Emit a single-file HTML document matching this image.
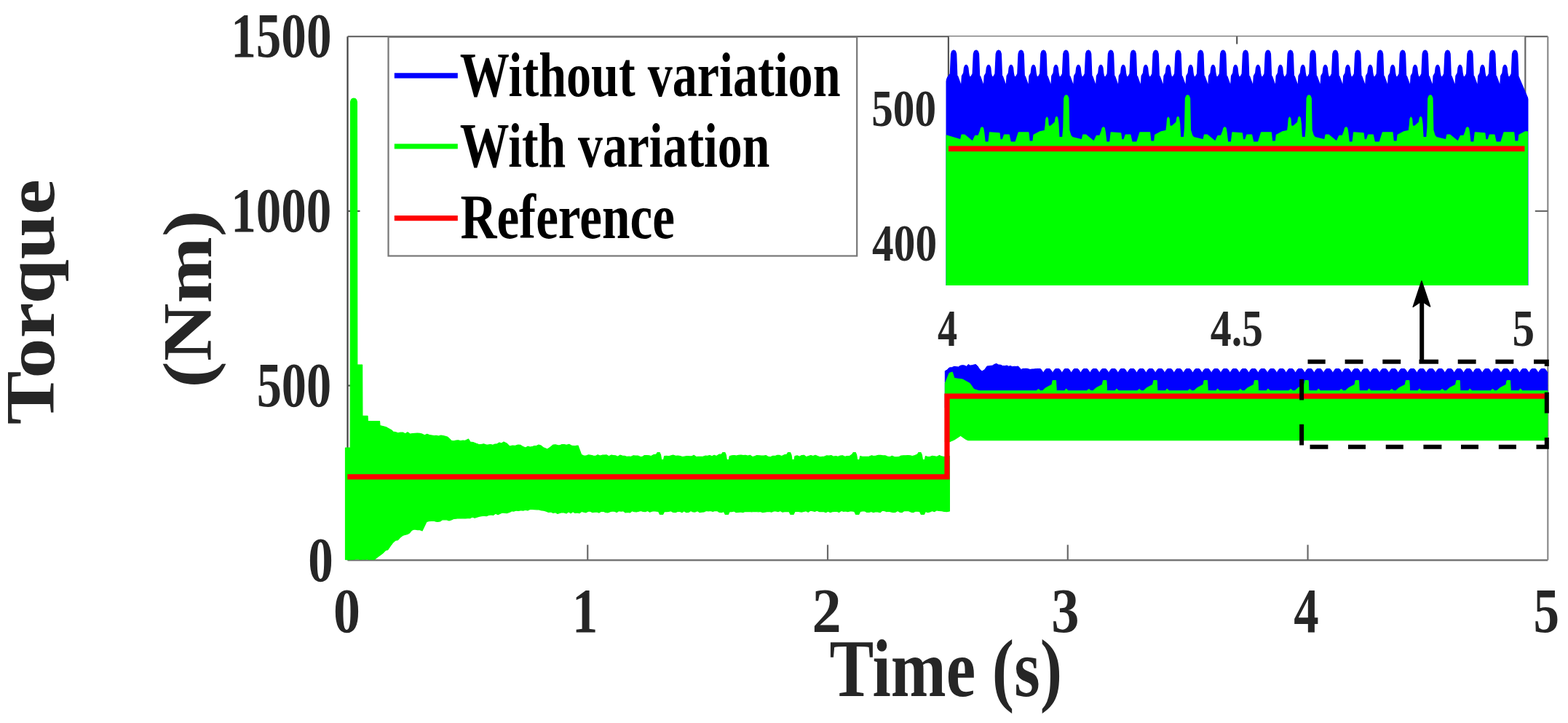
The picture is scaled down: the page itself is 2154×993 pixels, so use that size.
<!DOCTYPE html>
<html><head><meta charset="utf-8"><title>Torque plot</title>
<style>html,body{margin:0;padding:0;background:#fff;width:2154px;height:993px;overflow:hidden}svg{display:block}</style>
</head><body>
<svg width="2154" height="993" viewBox="0 0 2154 993" font-family="Liberation Serif, Times New Roman, serif" font-weight="bold">
<rect width="2154" height="993" fill="#fff"/>
<g stroke-width="2.2" fill="none">
<line x1="477.5" y1="50.2" x2="477.5" y2="769.3" stroke="#404040"/>
<line x1="477.5" y1="769.3" x2="2126.3" y2="769.3" stroke="#6a6a6a"/>
<line x1="477.5" y1="50.2" x2="2126.3" y2="50.2" stroke="#6a6a6a"/>
<line x1="2126.3" y1="50.2" x2="2126.3" y2="769.3" stroke="#8a8a8a"/>
<line x1="807.26" y1="769.3" x2="807.26" y2="748.3" stroke="#6a6a6a"/>
<line x1="1137.02" y1="769.3" x2="1137.02" y2="748.3" stroke="#6a6a6a"/>
<line x1="1466.78" y1="769.3" x2="1466.78" y2="748.3" stroke="#6a6a6a"/>
<line x1="1796.54" y1="769.3" x2="1796.54" y2="748.3" stroke="#6a6a6a"/>
<line x1="477.5" y1="529.6" x2="494.5" y2="529.6" stroke="#555"/>
<line x1="2126.3" y1="529.6" x2="2108.8" y2="529.6" stroke="#6a6a6a"/>
<line x1="477.5" y1="289.9" x2="494.5" y2="289.9" stroke="#555"/>
<line x1="2126.3" y1="289.9" x2="2108.8" y2="289.9" stroke="#6a6a6a"/>
</g>
<defs><clipPath id="mc"><rect x="470" y="50.2" width="1656.3" height="719.1"/></clipPath></defs>
<g clip-path="url(#mc)">
<path d="M474.5,615 L476.73,615 L478.97,615 L481.2,615 L481.6,140 L482.4,137.2 L483.8,135.6 L486,135.2 L488.2,135.6 L489.6,137.2 L490.4,140 L490.8,501 L493.07,501 L495.33,501 L497.6,501 L497.9,571.4 L500.27,571.4 L502.63,571.4 L505,571.4 L505.4,578.7 L507.41,578.7 L509.42,578.7 L511.44,578.7 L513.45,578.7 L515.46,578.7 L517.48,578.7 L519.49,578.7 L521.5,578.7 L522,584.7 L524,585.15 L526,585.6 L528,586.05 L530,586.5 L537.7,590.8 L540,593 L543.34,593.66 L546.67,594.81 L550.01,594.18 L553.35,594.03 L556.69,595.86 L560.03,593.77 L563.36,596.21 L566.7,595.6 L570.03,595.32 L573.36,595.22 L576.69,595.42 L580.01,596.19 L583.34,597.78 L586.67,596.4 L590,597.5 L593.12,598.07 L596.25,598.59 L599.38,598.26 L602.5,599.07 L605.62,598.18 L608.75,598.53 L611.88,599.27 L615,600.4 L620,605.3 L623.17,605.77 L626.33,605.11 L629.5,604.82 L632.67,605.52 L635.83,605.18 L639,605.3 L643.5,603 L646,607 L649.85,607.48 L653.7,609 L657.28,610.27 L660.85,610.52 L664.42,609.83 L668,611 L671,610.94 L674,610.57 L677,611.23 L680,610 L683,609.85 L686,607.95 L689,609 L692,607 L696,609.01 L700,613 L703.9,612.12 L707.8,612.34 L711.7,611 L715.13,611.43 L718.57,613.64 L722,615 L725,613.14 L728,614.1 L731,613.69 L734,612.52 L737,612.64 L740,611 L743,612.02 L746,614.51 L749,615.75 L752,617 L756,614.21 L760,611 L763,610.79 L766,611.68 L769,611.86 L772,610.53 L775,610.5 L778.33,611.43 L781.67,610.36 L785,612 L788,612.52 L791,612.38 L794,612 L798.7,624.6 L801.96,626.16 L805.22,626 L808.48,624.88 L811.74,625.42 L815,626 L818.06,626.46 L821.12,624.8 L824.18,625.96 L827.25,625.21 L830.31,625.1 L833.37,624.97 L836.43,626.83 L839.49,625.19 L842.55,625.52 L845.62,625.91 L848.68,627.18 L851.74,625.14 L854.8,626.12 L857.86,626.4 L860.92,627.29 L863.98,627.14 L867.05,627.27 L870.11,625.77 L873.17,626.15 L876.23,626.02 L879.29,627.4 L882.35,627.61 L885.42,625.53 L888.48,625.62 L891.54,625.78 L894.6,626.5 L898.1,624.56 L901.6,624 L903.1,621.5 L906.1,621.5 L907.6,625 L908.6,631.5 L911.6,631.5 L912.6,626.5 L915.72,626.46 L918.83,626.73 L921.95,625.88 L925.07,625.21 L928.19,626.29 L931.3,626.16 L934.42,626.67 L937.54,627.68 L940.66,627 L943.77,626.54 L946.89,626.81 L950.01,626.96 L953.13,625.34 L956.24,627.54 L959.36,627.23 L962.48,627.47 L965.6,627.27 L968.71,626.22 L971.83,626.24 L974.95,625.47 L978.07,626.85 L981.18,625.36 L984.3,626.5 L987.8,624.13 L991.3,624 L992.8,621.5 L995.8,621.5 L997.3,625 L998.3,631.5 L1001.3,631.5 L1002.3,626.5 L1005.42,625.74 L1008.53,625.62 L1011.65,626.08 L1014.77,625.34 L1017.89,625.2 L1021,625.59 L1024.12,625.46 L1027.24,626.15 L1030.36,625.27 L1033.47,627.47 L1036.59,626.8 L1039.71,625.59 L1042.83,625.86 L1045.94,626.1 L1049.06,626.15 L1052.18,625.52 L1055.3,627.41 L1058.41,627.78 L1061.53,626.41 L1064.65,626.46 L1067.77,625.42 L1070.88,625.47 L1074,626.5 L1077.5,624.84 L1081,624 L1082.5,621.5 L1085.5,621.5 L1087,625 L1088,631.5 L1091,631.5 L1092,626.5 L1095.12,625.89 L1098.23,627.36 L1101.35,625.62 L1104.47,625.26 L1107.59,627.67 L1110.7,626.57 L1113.82,625.58 L1116.94,626.61 L1120.06,625.27 L1123.17,626.57 L1126.29,627.74 L1129.41,627.44 L1132.53,627.01 L1135.64,625.88 L1138.76,626.15 L1141.88,625.63 L1145,627.21 L1148.11,626.58 L1151.23,627.23 L1154.35,626.06 L1157.47,625.78 L1160.58,627.31 L1163.7,626.5 L1167.2,626.51 L1170.7,624 L1172.2,621.5 L1175.2,621.5 L1176.7,625 L1177.7,631.5 L1180.7,631.5 L1181.7,626.5 L1184.82,627.42 L1187.93,627.3 L1191.05,627.33 L1194.17,627.12 L1197.29,625.79 L1200.4,626.55 L1203.52,626.12 L1206.64,625.28 L1209.76,625.27 L1212.87,625.93 L1215.99,625.87 L1219.11,627 L1222.23,627.69 L1225.34,626.36 L1228.46,627.64 L1231.58,627.77 L1234.7,627.68 L1237.81,626.15 L1240.93,625.77 L1244.05,625.79 L1247.17,625.71 L1250.28,625.73 L1253.4,626.5 L1256.9,625.57 L1260.4,624 L1261.9,621.5 L1264.9,621.5 L1266.4,625 L1267.4,631.5 L1270.4,631.5 L1271.4,626.5 L1274.58,627.54 L1277.76,627.39 L1280.93,626.45 L1284.11,626.9 L1287.29,627.28 L1290.47,625.42 L1293.64,626.92 L1296.82,627.57 L1300,626.5 L1304.4,626.5 L1304.4,702 L1300.8,702.61 L1297.2,702.4 L1293.6,701.57 L1290,701.5 L1286.9,700.83 L1283.8,702.59 L1280.7,701.56 L1277.6,702.95 L1274.5,703.56 L1271.4,702.5 L1269.4,706.5 L1265.4,706.5 L1263.4,702.5 L1260.37,702.23 L1257.35,702.24 L1254.32,703.66 L1251.3,703.08 L1248.27,701.64 L1245.24,701.53 L1242.22,701.59 L1239.19,703.55 L1236.17,703.3 L1233.14,701.58 L1230.11,703.35 L1227.09,703.75 L1224.06,702.91 L1221.04,702.11 L1218.01,702.63 L1214.99,701.54 L1211.96,701.24 L1208.93,703.72 L1205.91,702.89 L1202.88,702.57 L1199.86,703.63 L1196.83,702.33 L1193.8,703.47 L1190.78,703.35 L1187.75,701.75 L1184.73,701.85 L1181.7,702.5 L1179.7,706.5 L1175.7,706.5 L1173.7,702.5 L1170.67,701.96 L1167.65,701.83 L1164.62,702.72 L1161.6,701.87 L1158.57,702.29 L1155.54,701.54 L1152.52,703.57 L1149.49,702.12 L1146.47,702.39 L1143.44,702.72 L1140.41,703.55 L1137.39,702.29 L1134.36,703.59 L1131.34,702.5 L1128.31,702.58 L1125.29,702.56 L1122.26,701.25 L1119.23,702.34 L1116.21,701.68 L1113.18,701.21 L1110.16,703.28 L1107.13,701.65 L1104.1,702.43 L1101.08,703.09 L1098.05,702.65 L1095.03,702.05 L1092,702.5 L1090,706.5 L1086,706.5 L1084,702.5 L1080.97,702.55 L1077.95,702.64 L1074.92,703.24 L1071.9,701.48 L1068.87,702.66 L1065.84,701.85 L1062.82,701.92 L1059.79,703.21 L1056.77,702.52 L1053.74,702.66 L1050.71,703.18 L1047.69,703.57 L1044.66,702.35 L1041.64,702.79 L1038.61,702.51 L1035.59,702.53 L1032.56,703 L1029.53,702.38 L1026.51,702.59 L1023.48,702.44 L1020.46,703.65 L1017.43,703.02 L1014.4,703.48 L1011.38,703.65 L1008.35,701.87 L1005.33,702.65 L1002.3,702.5 L1000.3,706.5 L996.3,706.5 L994.3,702.5 L991.27,703.65 L988.25,703.38 L985.22,701.56 L982.2,701.52 L979.17,702.35 L976.14,701.39 L973.12,701.83 L970.09,701.39 L967.07,702.94 L964.04,703.24 L961.01,703.53 L957.99,701.6 L954.96,703.06 L951.94,702.92 L948.91,701.57 L945.89,703.5 L942.86,703.72 L939.83,701.77 L936.81,703.68 L933.78,702.24 L930.76,702.47 L927.73,703.77 L924.7,703.36 L921.68,701.62 L918.65,702.32 L915.63,702.54 L912.6,702.5 L910.6,706.5 L906.6,706.5 L904.6,702.5 L901.58,702.1 L898.56,701.74 L895.54,702.08 L892.51,703.15 L889.49,701.34 L886.47,702.75 L883.45,702.47 L880.43,701.39 L877.41,702.22 L874.39,703 L871.36,702.73 L868.34,701.58 L865.32,703.99 L862.3,703.5 L859.28,703.99 L856.26,701.76 L853.24,702.19 L850.21,701.62 L847.19,703.56 L844.17,702.26 L841.15,701.91 L838.13,702.69 L835.11,703.98 L832.09,703.76 L829.06,702.32 L826.04,702.05 L823.02,704.07 L820,703 L817,703.25 L814,703.66 L811,702.14 L808,702.13 L805,703.84 L802,703.23 L799,702.38 L796,704.7 L793,703.98 L790,704.48 L787,702.69 L784,704.77 L781,702.78 L778,704.92 L775,703.93 L772,703.7 L769,704.33 L766,705.37 L763,703.73 L760,704.4 L756.78,702.89 L753.56,703.38 L750.33,702.09 L747.11,701.21 L743.89,700.8 L740.67,699.96 L737.44,699.81 L734.22,699.56 L731,699.5 L727.9,699.39 L724.8,700.97 L721.7,700.15 L718.6,701.1 L715.5,700.66 L712.4,701.5 L709.3,701.05 L706.2,702.05 L703.1,701.84 L700,703.5 L696.81,704.54 L693.62,704.51 L690.42,704.01 L687.23,705.19 L684.04,706.82 L680.85,705.11 L677.65,707.4 L674.46,706.83 L671.27,707.43 L668.08,708.75 L664.88,708.05 L661.69,708.78 L658.5,709.2 L655.29,710.09 L652.08,711.25 L648.88,709.99 L645.67,711.66 L642.46,711.74 L639.25,711.95 L636.04,711.75 L632.83,712 L629.62,711.64 L626.42,712.24 L623.21,712.48 L620,714 L616.91,714.85 L613.82,713.82 L610.73,713.81 L607.64,713.83 L604.55,716.02 L601.45,716.33 L598.36,716.03 L595.27,715.25 L592.18,715.38 L589.09,715.73 L586,716.5 L583,722.64 L580,729 L576.33,727.44 L572.67,727.53 L569,727 L565.8,728.22 L562.6,731.87 L559.4,733.73 L556.2,734.46 L553,735.5 L549.8,738 L546.53,741.54 L543.27,742.17 L540,745 L536.4,749.63 L532.8,755 L529.6,755.95 L526.4,759.19 L523.2,761.68 L520,764 L516.75,766.51 L513.5,769 L510.5,768.22 L507.5,769.01 L504.5,767.71 L501.5,768.39 L498.5,767.93 L495.5,768.74 L492.5,767.81 L489.5,767.76 L486.5,768.49 L483.5,768.31 L480.5,769.22 L477.5,769.08 L474.5,769 Z" fill="#00ff00" stroke="#00ff00" stroke-width="1.2" stroke-linejoin="round" />
<path d="M1298.3,560 L1298.3,509.6 L1301.15,508.1 L1304,505 L1307.5,504.65 L1311,503.3 L1313.8,503.73 L1316.6,503.99 L1319.4,502.17 L1322.2,501.7 L1325,502 L1327.6,503.35 L1330.2,500.48 L1332.8,502.12 L1335.4,501.66 L1338,501 L1340.5,500.54 L1343,503 L1346,507.57 L1349,510 L1352.5,507.75 L1356,503 L1358.5,502.76 L1361,502.45 L1363.5,502.05 L1366,500.4 L1368.83,499.51 L1371.67,501.01 L1374.5,501.21 L1377.33,502.54 L1380.17,502.71 L1383,502 L1385.6,503.21 L1388.2,502.6 L1390.8,503.76 L1393.4,503.25 L1396,503.45 L1398.6,503 L1402.8,507.5 L1402.8,507.5 L1405,506.5 L1407.5,506.32 L1410,506.25 L1412.5,506.66 L1415,507.5 L1417.5,507.03 L1420,507 L1423.5,506.62 L1427,507.5 L1430,509 L1420.37,511.9 L1423.47,507.2 L1424.57,506.6 L1428.97,506.6 L1430.07,507.2 L1433.2,511.9 L1436.3,507.2 L1437.4,506.6 L1441.8,506.6 L1442.9,507.2 L1446.03,511.9 L1449.13,507.2 L1450.23,506.6 L1454.63,506.6 L1455.73,507.2 L1458.86,511.9 L1461.96,507.2 L1463.06,506.6 L1467.46,506.6 L1468.56,507.2 L1471.69,511.9 L1474.79,507.2 L1475.89,506.6 L1480.29,506.6 L1481.39,507.2 L1484.52,511.9 L1487.62,507.2 L1488.72,506.6 L1493.12,506.6 L1494.22,507.2 L1497.35,511.9 L1500.45,507.2 L1501.55,506.6 L1505.95,506.6 L1507.05,507.2 L1510.18,511.9 L1513.28,507.2 L1514.38,506.6 L1518.78,506.6 L1519.88,507.2 L1523.01,511.9 L1526.11,507.2 L1527.21,506.6 L1531.61,506.6 L1532.71,507.2 L1535.84,511.9 L1538.94,507.2 L1540.04,506.6 L1544.44,506.6 L1545.54,507.2 L1548.67,511.9 L1551.77,507.2 L1552.87,506.6 L1557.27,506.6 L1558.37,507.2 L1561.5,511.9 L1564.6,507.2 L1565.7,506.6 L1570.1,506.6 L1571.2,507.2 L1574.33,511.9 L1577.43,507.2 L1578.53,506.6 L1582.93,506.6 L1584.03,507.2 L1587.16,511.9 L1590.26,507.2 L1591.36,506.6 L1595.76,506.6 L1596.86,507.2 L1599.99,511.9 L1603.09,507.2 L1604.19,506.6 L1608.59,506.6 L1609.69,507.2 L1612.82,511.9 L1615.92,507.2 L1617.02,506.6 L1621.42,506.6 L1622.52,507.2 L1625.65,511.9 L1628.75,507.2 L1629.85,506.6 L1634.25,506.6 L1635.35,507.2 L1638.48,511.9 L1641.58,507.2 L1642.68,506.6 L1647.08,506.6 L1648.18,507.2 L1651.31,511.9 L1654.41,507.2 L1655.51,506.6 L1659.91,506.6 L1661.01,507.2 L1664.14,511.9 L1667.24,507.2 L1668.34,506.6 L1672.74,506.6 L1673.84,507.2 L1676.97,511.9 L1680.07,507.2 L1681.17,506.6 L1685.57,506.6 L1686.67,507.2 L1689.8,511.9 L1692.9,507.2 L1694,506.6 L1698.4,506.6 L1699.5,507.2 L1702.63,511.9 L1705.73,507.2 L1706.83,506.6 L1711.23,506.6 L1712.33,507.2 L1715.46,511.9 L1718.56,507.2 L1719.66,506.6 L1724.06,506.6 L1725.16,507.2 L1728.29,511.9 L1731.39,507.2 L1732.49,506.6 L1736.89,506.6 L1737.99,507.2 L1741.12,511.9 L1744.22,507.2 L1745.32,506.6 L1749.72,506.6 L1750.82,507.2 L1753.95,511.9 L1757.05,507.2 L1758.15,506.6 L1762.55,506.6 L1763.65,507.2 L1766.78,511.9 L1769.88,507.2 L1770.98,506.6 L1775.38,506.6 L1776.48,507.2 L1779.61,511.9 L1782.71,507.2 L1783.81,506.6 L1788.21,506.6 L1789.31,507.2 L1792.44,511.9 L1795.54,507.2 L1796.64,506.6 L1801.04,506.6 L1802.14,507.2 L1805.27,511.9 L1808.37,507.2 L1809.47,506.6 L1813.87,506.6 L1814.97,507.2 L1818.1,511.9 L1821.2,507.2 L1822.3,506.6 L1826.7,506.6 L1827.8,507.2 L1830.93,511.9 L1834.03,507.2 L1835.13,506.6 L1839.53,506.6 L1840.63,507.2 L1843.76,511.9 L1846.86,507.2 L1847.96,506.6 L1852.36,506.6 L1853.46,507.2 L1856.59,511.9 L1859.69,507.2 L1860.79,506.6 L1865.19,506.6 L1866.29,507.2 L1869.42,511.9 L1872.52,507.2 L1873.62,506.6 L1878.02,506.6 L1879.12,507.2 L1882.25,511.9 L1885.35,507.2 L1886.45,506.6 L1890.85,506.6 L1891.95,507.2 L1895.08,511.9 L1898.18,507.2 L1899.28,506.6 L1903.68,506.6 L1904.78,507.2 L1907.91,511.9 L1911.01,507.2 L1912.11,506.6 L1916.51,506.6 L1917.61,507.2 L1920.74,511.9 L1923.84,507.2 L1924.94,506.6 L1929.34,506.6 L1930.44,507.2 L1933.57,511.9 L1936.67,507.2 L1937.77,506.6 L1942.17,506.6 L1943.27,507.2 L1946.4,511.9 L1949.5,507.2 L1950.6,506.6 L1955,506.6 L1956.1,507.2 L1959.23,511.9 L1962.33,507.2 L1963.43,506.6 L1967.83,506.6 L1968.93,507.2 L1972.06,511.9 L1975.16,507.2 L1976.26,506.6 L1980.66,506.6 L1981.76,507.2 L1984.89,511.9 L1987.99,507.2 L1989.09,506.6 L1993.49,506.6 L1994.59,507.2 L1997.72,511.9 L2000.82,507.2 L2001.92,506.6 L2006.32,506.6 L2007.42,507.2 L2010.55,511.9 L2013.65,507.2 L2014.75,506.6 L2019.15,506.6 L2020.25,507.2 L2023.38,511.9 L2026.48,507.2 L2027.58,506.6 L2031.98,506.6 L2033.08,507.2 L2036.21,511.9 L2039.31,507.2 L2040.41,506.6 L2044.81,506.6 L2045.91,507.2 L2049.04,511.9 L2052.14,507.2 L2053.24,506.6 L2057.64,506.6 L2058.74,507.2 L2061.87,511.9 L2064.97,507.2 L2066.07,506.6 L2070.47,506.6 L2071.57,507.2 L2074.7,511.9 L2077.8,507.2 L2078.9,506.6 L2083.3,506.6 L2084.4,507.2 L2087.53,511.9 L2090.63,507.2 L2091.73,506.6 L2096.13,506.6 L2097.23,507.2 L2100.36,511.9 L2103.46,507.2 L2104.56,506.6 L2108.96,506.6 L2110.06,507.2 L2113.19,511.9 L2116.29,507.2 L2117.39,506.6 L2121.79,506.6 L2122.89,507.2 L2126.02,511.9 L2129.12,507.2 L2130.22,506.6 L2134.62,506.6 L2135.72,507.2 L2127.5,511 L2127.5,560 Z" fill="#0000ff" stroke="#0000ff" stroke-width="1.0" stroke-linejoin="round" />
<path d="M1298.3,607 L1298.3,526.5 L1304,512.4 L1308.3,511 L1311,519.5 L1322.4,521 L1332.3,526.5 L1338,534.6 L1345,536.8 L1423.5,536.8 L1426.5,534.5 L1429.5,536.8 L1432.2,536.7 L1436.5,532.8 L1442.1,529.8 L1444.9,528.4 L1446.1,522.6 L1450.6,522.6 L1451.3,536.7 L1462.5,536.8 L1464.5,534 L1467.5,536.8 L1492.83,536.8 L1495.83,534.5 L1498.83,536.8 L1501.53,536.7 L1505.83,532.8 L1511.43,529.8 L1514.23,528.4 L1515.43,522.6 L1519.93,522.6 L1520.63,536.7 L1531.83,536.8 L1533.83,534 L1536.83,536.8 L1562.16,536.8 L1565.16,534.5 L1568.16,536.8 L1570.86,536.7 L1575.16,532.8 L1580.76,529.8 L1583.56,528.4 L1584.76,522.6 L1589.26,522.6 L1589.96,536.7 L1601.16,536.8 L1603.16,534 L1606.16,536.8 L1631.49,536.8 L1634.49,534.5 L1637.49,536.8 L1640.19,536.7 L1644.49,532.8 L1650.09,529.8 L1652.89,528.4 L1654.09,522.6 L1658.59,522.6 L1659.29,536.7 L1670.49,536.8 L1672.49,534 L1675.49,536.8 L1700.82,536.8 L1703.82,534.5 L1706.82,536.8 L1709.52,536.7 L1713.82,532.8 L1719.42,529.8 L1722.22,528.4 L1723.42,522.6 L1727.92,522.6 L1728.62,536.7 L1739.82,536.8 L1741.82,534 L1744.82,536.8 L1770.15,536.8 L1773.15,534.5 L1776.15,536.8 L1778.85,536.7 L1783.15,532.8 L1788.75,529.8 L1791.55,528.4 L1792.75,522.6 L1797.25,522.6 L1797.95,536.7 L1809.15,536.8 L1811.15,534 L1814.15,536.8 L1839.48,536.8 L1842.48,534.5 L1845.48,536.8 L1848.18,536.7 L1852.48,532.8 L1858.08,529.8 L1860.88,528.4 L1862.08,522.6 L1866.58,522.6 L1867.28,536.7 L1878.48,536.8 L1880.48,534 L1883.48,536.8 L1908.81,536.8 L1911.81,534.5 L1914.81,536.8 L1917.51,536.7 L1921.81,532.8 L1927.41,529.8 L1930.21,528.4 L1931.41,522.6 L1935.91,522.6 L1936.61,536.7 L1947.81,536.8 L1949.81,534 L1952.81,536.8 L1978.14,536.8 L1981.14,534.5 L1984.14,536.8 L1986.84,536.7 L1991.14,532.8 L1996.74,529.8 L1999.54,528.4 L2000.74,522.6 L2005.24,522.6 L2005.94,536.7 L2017.14,536.8 L2019.14,534 L2022.14,536.8 L2047.47,536.8 L2050.47,534.5 L2053.47,536.8 L2056.17,536.7 L2060.47,532.8 L2066.07,529.8 L2068.87,528.4 L2070.07,522.6 L2074.57,522.6 L2075.27,536.7 L2086.47,536.8 L2088.47,534 L2091.47,536.8 L2127.5,536.8 L2127.5,604.8 L1330,604.8 L1326.7,603.4 L1319.6,598.4 L1311,604 L1304,607 Z" fill="#00ff00" stroke="#00ff00" stroke-width="1.0" stroke-linejoin="round" />
</g>
<path d="M477.3,654.8 L1301,654.8 L1301,544.1 L2124.8,544.1" fill="none" stroke="#ff0000" stroke-width="7.2" stroke-linejoin="miter"/>
<rect x="533.5" y="50.8" width="643.7" height="300.7" fill="#fff" stroke="#777" stroke-width="2.2"/>
<line x1="541.8" y1="103.8" x2="628.8" y2="103.8" stroke="#0000ff" stroke-width="7.2"/>
<line x1="541.8" y1="201.0" x2="628.8" y2="201.0" stroke="#00ff00" stroke-width="7.2"/>
<line x1="541.8" y1="299.6" x2="628.8" y2="299.6" stroke="#ff0000" stroke-width="7.2"/>
<rect x="1302.9" y="50.2" width="792.4000000000001" height="341.8" fill="#fff"/>
<defs><clipPath id="ic"><rect x="1299.6" y="50.2" width="799.8" height="341.8"/></clipPath></defs>
<g stroke-width="2.2">
<line x1="1302.9" y1="50.2" x2="1302.9" y2="392.0" stroke="#555"/>
<line x1="2095.3" y1="50.2" x2="2095.3" y2="392.0" stroke="#666"/>
<line x1="1699.2" y1="50.2" x2="1699.2" y2="60.5" stroke="#555"/>
</g>
<g clip-path="url(#ic)">
<path d="M1299.6,392 L1299.6,112 L1302,106 L1305.5,101.4 L1305.5,101.4 L1306.7,74 L1307.9,70.5 L1310.1,69.2 L1312.3,70.5 L1313.5,74 L1314.6,104 L1315.6,105 L1319.7,116.5 L1320.4,121.5 L1321,114 L1321.6,104.5 L1323.9,100.5 L1324.7,93 L1325.9,90.2 L1327.2,89.5 L1328.5,90.2 L1329.7,93 L1330.5,101 L1331.6,105.5 L1334.1,105.5 L1336.3,101.4 L1336.34,101.4 L1337.54,74 L1338.74,70.5 L1340.94,69.2 L1343.14,70.5 L1344.34,74 L1345.44,104 L1346.44,105 L1350.54,116.5 L1351.24,121.5 L1351.84,114 L1352.44,104.5 L1354.74,100.5 L1355.54,93 L1356.74,90.2 L1358.04,89.5 L1359.34,90.2 L1360.54,93 L1361.34,101 L1362.44,105.5 L1364.94,105.5 L1367.14,101.4 L1367.18,101.4 L1368.38,74 L1369.58,70.5 L1371.78,69.2 L1373.98,70.5 L1375.18,74 L1376.28,104 L1377.28,105 L1381.38,116.5 L1382.08,121.5 L1382.68,114 L1383.28,104.5 L1385.58,100.5 L1386.38,93 L1387.58,90.2 L1388.88,89.5 L1390.18,90.2 L1391.38,93 L1392.18,101 L1393.28,105.5 L1395.78,105.5 L1397.98,101.4 L1398.02,101.4 L1399.22,74 L1400.42,70.5 L1402.62,69.2 L1404.82,70.5 L1406.02,74 L1407.12,104 L1408.12,105 L1412.22,116.5 L1412.92,121.5 L1413.52,114 L1414.12,104.5 L1416.42,100.5 L1417.22,93 L1418.42,90.2 L1419.72,89.5 L1421.02,90.2 L1422.22,93 L1423.02,101 L1424.12,105.5 L1426.62,105.5 L1428.82,101.4 L1428.86,101.4 L1430.06,74 L1431.26,70.5 L1433.46,69.2 L1435.66,70.5 L1436.86,74 L1437.96,104 L1438.96,105 L1443.06,116.5 L1443.76,121.5 L1444.36,114 L1444.96,104.5 L1447.26,100.5 L1448.06,93 L1449.26,90.2 L1450.56,89.5 L1451.86,90.2 L1453.06,93 L1453.86,101 L1454.96,105.5 L1457.46,105.5 L1459.66,101.4 L1459.7,101.4 L1460.9,74 L1462.1,70.5 L1464.3,69.2 L1466.5,70.5 L1467.7,74 L1468.8,104 L1469.8,105 L1473.9,116.5 L1474.6,121.5 L1475.2,114 L1475.8,104.5 L1478.1,100.5 L1478.9,93 L1480.1,90.2 L1481.4,89.5 L1482.7,90.2 L1483.9,93 L1484.7,101 L1485.8,105.5 L1488.3,105.5 L1490.5,101.4 L1490.54,101.4 L1491.74,74 L1492.94,70.5 L1495.14,69.2 L1497.34,70.5 L1498.54,74 L1499.64,104 L1500.64,105 L1504.74,116.5 L1505.44,121.5 L1506.04,114 L1506.64,104.5 L1508.94,100.5 L1509.74,93 L1510.94,90.2 L1512.24,89.5 L1513.54,90.2 L1514.74,93 L1515.54,101 L1516.64,105.5 L1519.14,105.5 L1521.34,101.4 L1521.38,101.4 L1522.58,74 L1523.78,70.5 L1525.98,69.2 L1528.18,70.5 L1529.38,74 L1530.48,104 L1531.48,105 L1535.58,116.5 L1536.28,121.5 L1536.88,114 L1537.48,104.5 L1539.78,100.5 L1540.58,93 L1541.78,90.2 L1543.08,89.5 L1544.38,90.2 L1545.58,93 L1546.38,101 L1547.48,105.5 L1549.98,105.5 L1552.18,101.4 L1552.22,101.4 L1553.42,74 L1554.62,70.5 L1556.82,69.2 L1559.02,70.5 L1560.22,74 L1561.32,104 L1562.32,105 L1566.42,116.5 L1567.12,121.5 L1567.72,114 L1568.32,104.5 L1570.62,100.5 L1571.42,93 L1572.62,90.2 L1573.92,89.5 L1575.22,90.2 L1576.42,93 L1577.22,101 L1578.32,105.5 L1580.82,105.5 L1583.02,101.4 L1583.06,101.4 L1584.26,74 L1585.46,70.5 L1587.66,69.2 L1589.86,70.5 L1591.06,74 L1592.16,104 L1593.16,105 L1597.26,116.5 L1597.96,121.5 L1598.56,114 L1599.16,104.5 L1601.46,100.5 L1602.26,93 L1603.46,90.2 L1604.76,89.5 L1606.06,90.2 L1607.26,93 L1608.06,101 L1609.16,105.5 L1611.66,105.5 L1613.86,101.4 L1613.9,101.4 L1615.1,74 L1616.3,70.5 L1618.5,69.2 L1620.7,70.5 L1621.9,74 L1623,104 L1624,105 L1628.1,116.5 L1628.8,121.5 L1629.4,114 L1630,104.5 L1632.3,100.5 L1633.1,93 L1634.3,90.2 L1635.6,89.5 L1636.9,90.2 L1638.1,93 L1638.9,101 L1640,105.5 L1642.5,105.5 L1644.7,101.4 L1644.74,101.4 L1645.94,74 L1647.14,70.5 L1649.34,69.2 L1651.54,70.5 L1652.74,74 L1653.84,104 L1654.84,105 L1658.94,116.5 L1659.64,121.5 L1660.24,114 L1660.84,104.5 L1663.14,100.5 L1663.94,93 L1665.14,90.2 L1666.44,89.5 L1667.74,90.2 L1668.94,93 L1669.74,101 L1670.84,105.5 L1673.34,105.5 L1675.54,101.4 L1675.58,101.4 L1676.78,74 L1677.98,70.5 L1680.18,69.2 L1682.38,70.5 L1683.58,74 L1684.68,104 L1685.68,105 L1689.78,116.5 L1690.48,121.5 L1691.08,114 L1691.68,104.5 L1693.98,100.5 L1694.78,93 L1695.98,90.2 L1697.28,89.5 L1698.58,90.2 L1699.78,93 L1700.58,101 L1701.68,105.5 L1704.18,105.5 L1706.38,101.4 L1706.42,101.4 L1707.62,74 L1708.82,70.5 L1711.02,69.2 L1713.22,70.5 L1714.42,74 L1715.52,104 L1716.52,105 L1720.62,116.5 L1721.32,121.5 L1721.92,114 L1722.52,104.5 L1724.82,100.5 L1725.62,93 L1726.82,90.2 L1728.12,89.5 L1729.42,90.2 L1730.62,93 L1731.42,101 L1732.52,105.5 L1735.02,105.5 L1737.22,101.4 L1737.26,101.4 L1738.46,74 L1739.66,70.5 L1741.86,69.2 L1744.06,70.5 L1745.26,74 L1746.36,104 L1747.36,105 L1751.46,116.5 L1752.16,121.5 L1752.76,114 L1753.36,104.5 L1755.66,100.5 L1756.46,93 L1757.66,90.2 L1758.96,89.5 L1760.26,90.2 L1761.46,93 L1762.26,101 L1763.36,105.5 L1765.86,105.5 L1768.06,101.4 L1768.1,101.4 L1769.3,74 L1770.5,70.5 L1772.7,69.2 L1774.9,70.5 L1776.1,74 L1777.2,104 L1778.2,105 L1782.3,116.5 L1783,121.5 L1783.6,114 L1784.2,104.5 L1786.5,100.5 L1787.3,93 L1788.5,90.2 L1789.8,89.5 L1791.1,90.2 L1792.3,93 L1793.1,101 L1794.2,105.5 L1796.7,105.5 L1798.9,101.4 L1798.94,101.4 L1800.14,74 L1801.34,70.5 L1803.54,69.2 L1805.74,70.5 L1806.94,74 L1808.04,104 L1809.04,105 L1813.14,116.5 L1813.84,121.5 L1814.44,114 L1815.04,104.5 L1817.34,100.5 L1818.14,93 L1819.34,90.2 L1820.64,89.5 L1821.94,90.2 L1823.14,93 L1823.94,101 L1825.04,105.5 L1827.54,105.5 L1829.74,101.4 L1829.78,101.4 L1830.98,74 L1832.18,70.5 L1834.38,69.2 L1836.58,70.5 L1837.78,74 L1838.88,104 L1839.88,105 L1843.98,116.5 L1844.68,121.5 L1845.28,114 L1845.88,104.5 L1848.18,100.5 L1848.98,93 L1850.18,90.2 L1851.48,89.5 L1852.78,90.2 L1853.98,93 L1854.78,101 L1855.88,105.5 L1858.38,105.5 L1860.58,101.4 L1860.62,101.4 L1861.82,74 L1863.02,70.5 L1865.22,69.2 L1867.42,70.5 L1868.62,74 L1869.72,104 L1870.72,105 L1874.82,116.5 L1875.52,121.5 L1876.12,114 L1876.72,104.5 L1879.02,100.5 L1879.82,93 L1881.02,90.2 L1882.32,89.5 L1883.62,90.2 L1884.82,93 L1885.62,101 L1886.72,105.5 L1889.22,105.5 L1891.42,101.4 L1891.46,101.4 L1892.66,74 L1893.86,70.5 L1896.06,69.2 L1898.26,70.5 L1899.46,74 L1900.56,104 L1901.56,105 L1905.66,116.5 L1906.36,121.5 L1906.96,114 L1907.56,104.5 L1909.86,100.5 L1910.66,93 L1911.86,90.2 L1913.16,89.5 L1914.46,90.2 L1915.66,93 L1916.46,101 L1917.56,105.5 L1920.06,105.5 L1922.26,101.4 L1922.3,101.4 L1923.5,74 L1924.7,70.5 L1926.9,69.2 L1929.1,70.5 L1930.3,74 L1931.4,104 L1932.4,105 L1936.5,116.5 L1937.2,121.5 L1937.8,114 L1938.4,104.5 L1940.7,100.5 L1941.5,93 L1942.7,90.2 L1944,89.5 L1945.3,90.2 L1946.5,93 L1947.3,101 L1948.4,105.5 L1950.9,105.5 L1953.1,101.4 L1953.14,101.4 L1954.34,74 L1955.54,70.5 L1957.74,69.2 L1959.94,70.5 L1961.14,74 L1962.24,104 L1963.24,105 L1967.34,116.5 L1968.04,121.5 L1968.64,114 L1969.24,104.5 L1971.54,100.5 L1972.34,93 L1973.54,90.2 L1974.84,89.5 L1976.14,90.2 L1977.34,93 L1978.14,101 L1979.24,105.5 L1981.74,105.5 L1983.94,101.4 L1983.98,101.4 L1985.18,74 L1986.38,70.5 L1988.58,69.2 L1990.78,70.5 L1991.98,74 L1993.08,104 L1994.08,105 L1998.18,116.5 L1998.88,121.5 L1999.48,114 L2000.08,104.5 L2002.38,100.5 L2003.18,93 L2004.38,90.2 L2005.68,89.5 L2006.98,90.2 L2008.18,93 L2008.98,101 L2010.08,105.5 L2012.58,105.5 L2014.78,101.4 L2014.82,101.4 L2016.02,74 L2017.22,70.5 L2019.42,69.2 L2021.62,70.5 L2022.82,74 L2023.92,104 L2024.92,105 L2029.02,116.5 L2029.72,121.5 L2030.32,114 L2030.92,104.5 L2033.22,100.5 L2034.02,93 L2035.22,90.2 L2036.52,89.5 L2037.82,90.2 L2039.02,93 L2039.82,101 L2040.92,105.5 L2043.42,105.5 L2045.62,101.4 L2045.66,101.4 L2046.86,74 L2048.06,70.5 L2050.26,69.2 L2052.46,70.5 L2053.66,74 L2054.76,104 L2055.76,105 L2059.86,116.5 L2060.56,121.5 L2061.16,114 L2061.76,104.5 L2064.06,100.5 L2064.86,93 L2066.06,90.2 L2067.36,89.5 L2068.66,90.2 L2069.86,93 L2070.66,101 L2071.76,105.5 L2074.26,105.5 L2076.46,101.4 L2076.5,101.4 L2077.7,74 L2078.9,70.5 L2081.1,69.2 L2083.3,70.5 L2084.5,74 L2085.6,104 L2085.6,104.5 L2099.3,136.7 L2099.3,392 Z" fill="#0000ff" stroke="#0000ff" stroke-width="1.6" stroke-linejoin="round" />
<path d="M1299.6,392 L1299.6,185.8 L1319.7,192 L1321.1,185.3 L1325.1,185.3 L1336.1,194.2 L1339.7,186.5 L1344.1,186.5 L1346.6,180 L1347.6,176 L1349.1,174.8 L1350.6,176 L1351.6,182 L1353.1,195.3 L1358.1,195.3 L1359.6,182 L1372.9,183 L1374,192 L1377.3,192 L1379.6,185.3 L1386.1,185.3 L1388.3,195.3 L1395.1,195.3 L1399.3,182 L1412.8,182 L1414.1,194.2 L1419.1,194.2 L1420.1,185.3 L1428.1,181 L1434.3,179.8 L1434.8,183 L1436.3,172 L1437,163 L1438.2,161 L1439.4,163 L1440.1,172 L1441.8,174 L1444.8,172 L1449.3,168 L1450.3,162 L1451.5,160.4 L1452.7,162 L1453.8,170 L1454.8,188.7 L1459.8,188.7 L1461,175 L1461.8,135 L1463.3,131.5 L1464.8,131 L1466.3,131.5 L1467.8,135 L1468.6,178.7 L1470.8,186 L1473,188.7 L1486.4,192 L1487.8,185.3 L1491.8,185.3 L1502.8,194.2 L1506.4,186.5 L1510.8,186.5 L1513.3,180 L1514.3,176 L1515.8,174.8 L1517.3,176 L1518.3,182 L1519.8,195.3 L1524.8,195.3 L1526.3,182 L1539.6,183 L1540.7,192 L1544,192 L1546.3,185.3 L1552.8,185.3 L1555,195.3 L1561.8,195.3 L1566,182 L1579.5,182 L1580.8,194.2 L1585.8,194.2 L1586.8,185.3 L1594.8,181 L1601,179.8 L1601.5,183 L1603,172 L1603.7,163 L1604.9,161 L1606.1,163 L1606.8,172 L1608.5,174 L1611.5,172 L1616,168 L1617,162 L1618.2,160.4 L1619.4,162 L1620.5,170 L1621.5,188.7 L1626.5,188.7 L1627.7,175 L1628.5,135 L1630,131.5 L1631.5,131 L1633,131.5 L1634.5,135 L1635.3,178.7 L1637.5,186 L1639.7,188.7 L1653.1,192 L1654.5,185.3 L1658.5,185.3 L1669.5,194.2 L1673.1,186.5 L1677.5,186.5 L1680,180 L1681,176 L1682.5,174.8 L1684,176 L1685,182 L1686.5,195.3 L1691.5,195.3 L1693,182 L1706.3,183 L1707.4,192 L1710.7,192 L1713,185.3 L1719.5,185.3 L1721.7,195.3 L1728.5,195.3 L1732.7,182 L1746.2,182 L1747.5,194.2 L1752.5,194.2 L1753.5,185.3 L1761.5,181 L1767.7,179.8 L1768.2,183 L1769.7,172 L1770.4,163 L1771.6,161 L1772.8,163 L1773.5,172 L1775.2,174 L1778.2,172 L1782.7,168 L1783.7,162 L1784.9,160.4 L1786.1,162 L1787.2,170 L1788.2,188.7 L1793.2,188.7 L1794.4,175 L1795.2,135 L1796.7,131.5 L1798.2,131 L1799.7,131.5 L1801.2,135 L1802,178.7 L1804.2,186 L1806.4,188.7 L1819.8,192 L1821.2,185.3 L1825.2,185.3 L1836.2,194.2 L1839.8,186.5 L1844.2,186.5 L1846.7,180 L1847.7,176 L1849.2,174.8 L1850.7,176 L1851.7,182 L1853.2,195.3 L1858.2,195.3 L1859.7,182 L1873,183 L1874.1,192 L1877.4,192 L1879.7,185.3 L1886.2,185.3 L1888.4,195.3 L1895.2,195.3 L1899.4,182 L1912.9,182 L1914.2,194.2 L1919.2,194.2 L1920.2,185.3 L1928.2,181 L1934.4,179.8 L1934.9,183 L1936.4,172 L1937.1,163 L1938.3,161 L1939.5,163 L1940.2,172 L1941.9,174 L1944.9,172 L1949.4,168 L1950.4,162 L1951.6,160.4 L1952.8,162 L1953.9,170 L1954.9,188.7 L1959.9,188.7 L1961.1,175 L1961.9,135 L1963.4,131.5 L1964.9,131 L1966.4,131.5 L1967.9,135 L1968.7,178.7 L1970.9,186 L1973.1,188.7 L1986.5,192 L1987.9,185.3 L1991.9,185.3 L2002.9,194.2 L2006.5,186.5 L2010.9,186.5 L2013.4,180 L2014.4,176 L2015.9,174.8 L2017.4,176 L2018.4,182 L2019.9,195.3 L2024.9,195.3 L2026.4,182 L2039.7,183 L2040.8,192 L2044.1,192 L2046.4,185.3 L2052.9,185.3 L2055.1,195.3 L2061.9,195.3 L2066.1,182 L2079.6,182 L2080.9,194.2 L2085.9,194.2 L2086.9,185.3 L2094.9,181 L2098.4,181 L2098.4,392 Z" fill="#00ff00" stroke="#00ff00" stroke-width="1.4" stroke-linejoin="round" />
</g>
<path d="M1303,204.2 L2094.4,204.2" fill="none" stroke="#ff0000" stroke-width="7.4" />
<path d="M1796.5,496.7 H1820.7 M1847.6,496.7 H1872.5 M1899.3,496.7 H1924.2 M1949.5,496.7 H1976 M2002.7,496.7 H2027.6 M2054.4,496.7 H2079.3 M2107,496.7 H2124.8 V503 M2124.8,538.8 V567.4 M2124.8,601 V613.8 H2110.5 M1799.5,613.8 H1824.4 M1852,613.8 H1876 M1903.7,613.8 H1927.8 M1955.4,613.8 H1980.4 M2007,613.8 H2031 M2058.8,613.8 H2082.9 M1788.1,520.8 V549.5 M1788.1,582.7 V611.4" fill="none" stroke="#000" stroke-width="6"/>
<line x1="1953.2" y1="497" x2="1953.2" y2="412" stroke="#000" stroke-width="6"/>
<path d="M1952.9,386 L1964.6,421 L1953.2,413.5 L1941.2,421.5 Z" fill="#000" stroke="#000" stroke-width="1.5" stroke-linejoin="round"/>
<text transform="translate(317.17,78.4) scale(0.7994,1)" font-size="86.5" fill="#262626">1500</text>
<text transform="translate(317.17,318.3) scale(0.7988,1)" font-size="86.5" fill="#262626">1000</text>
<text transform="translate(352.66,558.3) scale(0.7905,1)" font-size="86.5" fill="#262626">500</text>
<text transform="translate(423.24,797.8) scale(0.7982,1)" font-size="86.5" fill="#262626">0</text>
<text transform="translate(458.05,868) scale(0.8533,1)" font-size="86.5" fill="#262626">0</text>
<text transform="translate(786.06,868) scale(0.8155,1)" font-size="86.5" fill="#262626">1</text>
<text transform="translate(1115.38,868) scale(0.9304,1)" font-size="86.5" fill="#262626">2</text>
<text transform="translate(1444.24,868) scale(0.8841,1)" font-size="86.5" fill="#262626">3</text>
<text transform="translate(1777.27,868) scale(0.7956,1)" font-size="86.5" fill="#262626">4</text>
<text transform="translate(2106.56,868) scale(0.8215,1)" font-size="86.5" fill="#262626">5</text>
<text transform="translate(1139.38,955.5) scale(0.8047,1)" font-size="113.2" fill="#262626">Time (s)</text>
<text transform="translate(73.6,583.15) rotate(-90) scale(1.1550,1)" font-size="95.5" fill="#262626">Torque</text>
<text transform="translate(289.5,532.65) rotate(-90) scale(1.1508,1)" font-size="95.5" fill="#262626">(Nm)</text>
<text transform="translate(631.68,131.7) scale(0.7875,1)" font-size="86.5" fill="#000">Without variation</text>
<text transform="translate(631.68,229.4) scale(0.7827,1)" font-size="86.5" fill="#000">With variation</text>
<text transform="translate(632.46,327.2) scale(0.7998,1)" font-size="86.5" fill="#000">Reference</text>
<text transform="translate(1197.23,173.4) scale(0.8342,1)" font-size="71" fill="#262626">500</text>
<text transform="translate(1198.11,357.7) scale(0.8353,1)" font-size="71" fill="#262626">400</text>
<text transform="translate(1287.89,475) scale(0.7633,1)" font-size="71" fill="#262626">4</text>
<text transform="translate(1662.73,474.7) scale(0.8146,1)" font-size="71" fill="#262626">4.5</text>
<text transform="translate(2077.55,474.9) scale(0.8616,1)" font-size="71" fill="#262626">5</text>
</svg>
</body></html>
